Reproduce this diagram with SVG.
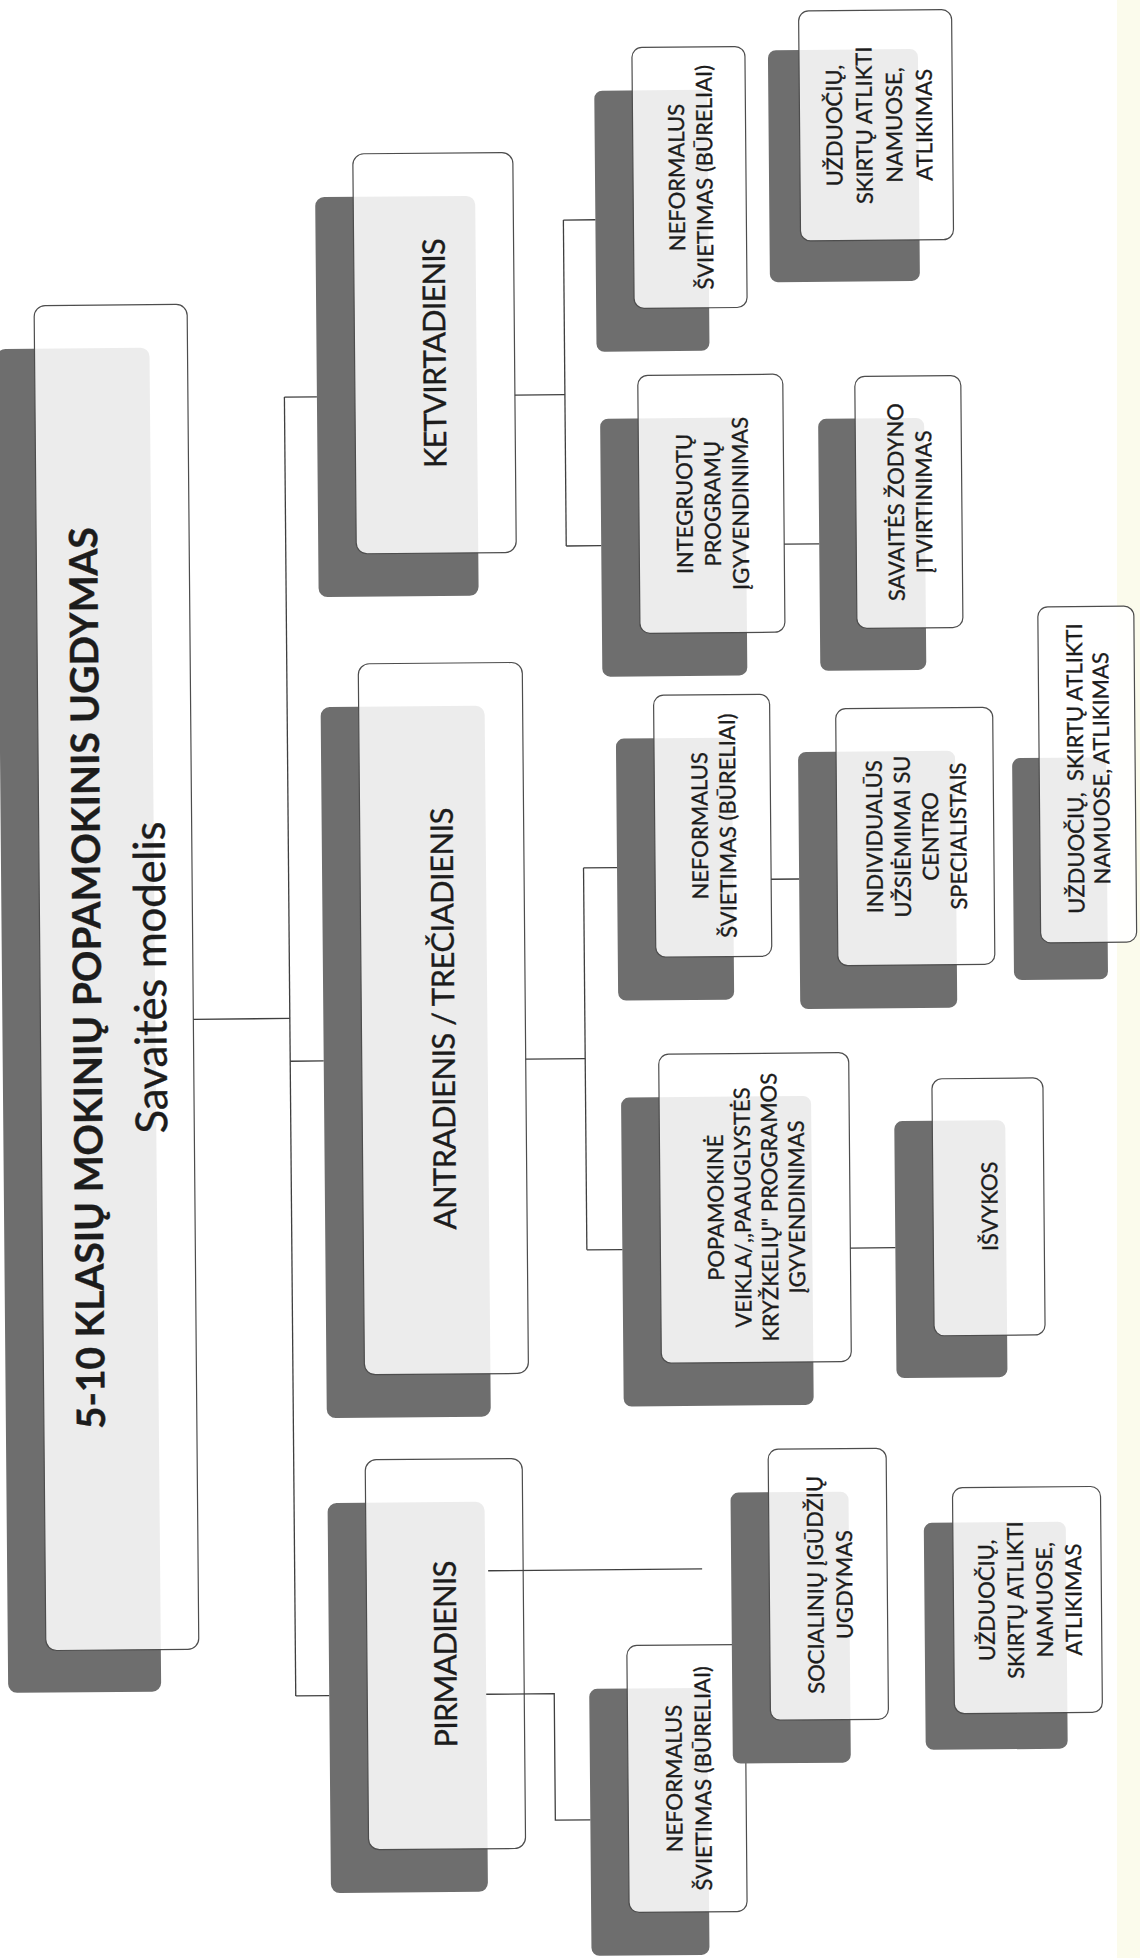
<svg xmlns="http://www.w3.org/2000/svg" width="1140" height="1958" viewBox="0 0 1140 1958">
<style>
.sh{fill:#6e6e6e}
.bx{fill:#fff;fill-opacity:.87;stroke:#4d4d4d;stroke-width:1.2}
.t{font-family:Lato,"Liberation Sans","DejaVu Sans",sans-serif;fill:#1c1c1c;stroke:#1c1c1c;stroke-width:.35;text-anchor:middle}
.l1{font-size:31px}
.l2{font-size:22px}
.ti{font-size:39px;font-weight:bold}
.st{font-size:44px}
.cn{fill:none;stroke:#3f3f3f;stroke-width:1.3}
</style>
<rect width="1140" height="1958" fill="#fff"/>
<rect x="1117" y="0" width="23" height="1958" fill="#fbfbec"/>
<g transform="rotate(-0.5 570 979)">
<g id="root">
<rect class="sh" x="2" y="344" width="153" height="1344" rx="9"/>
<rect class="bx" x="40" y="301" width="153" height="1345" rx="11"/>
<text class="t" transform="translate(116.5 974) rotate(-90)"><tspan class="ti" x="0" y="-15.5" textLength="902">5-10 KLASIŲ MOKINIŲ POPAMOKINIS UGDYMAS</tspan><tspan class="st" x="0" y="49.5" textLength="312">Savaitės modelis</tspan></text>
</g>
<g id="ketvirtadienis">
<rect class="sh" x="322" y="195" width="160" height="400" rx="9"/>
<rect class="bx" x="360" y="152" width="160" height="400" rx="11"/>
<text class="t l1" transform="translate(440 352) rotate(-90)" x="0" y="11" textLength="230">KETVIRTADIENIS</text>
</g>
<g id="antradienis">
<rect class="sh" x="323" y="705" width="164" height="711" rx="9"/>
<rect class="bx" x="361" y="662" width="164" height="711" rx="11"/>
<text class="t l1" transform="translate(443 1017.5) rotate(-90)" x="0" y="11" textLength="422">ANTRADIENIS / TREČIADIENIS</text>
</g>
<g id="pirmadienis">
<rect class="sh" x="323" y="1501" width="157" height="390" rx="9"/>
<rect class="bx" x="361" y="1458" width="157" height="390" rx="11"/>
<text class="t l1" transform="translate(439.5 1653) rotate(-90)" x="0" y="11" textLength="187">PIRMADIENIS</text>
</g>
<g id="k-neformalus">
<rect class="sh" x="602" y="91" width="113" height="261" rx="8"/>
<rect class="bx" x="640" y="48" width="113" height="261" rx="10"/>
<text class="t l2" transform="translate(696.5 178.5) rotate(-90)"><tspan x="0" y="-5">NEFORMALUS</tspan><tspan x="0" y="23">ŠVIETIMAS (BŪRELIAI)</tspan></text>
</g>
<g id="k-uzduociu">
<rect class="sh" x="776" y="52" width="150" height="232" rx="8"/>
<rect class="bx" x="807" y="13" width="153" height="230" rx="10"/>
<text class="t l2" transform="translate(883.5 128) rotate(-90)"><tspan x="0" y="-34">UŽDUOČIŲ,</tspan><tspan x="0" y="-4">SKIRTŲ ATLIKTI</tspan><tspan x="0" y="26">NAMUOSE,</tspan><tspan x="0" y="56">ATLIKIMAS</tspan></text>
</g>
<g id="k-integruotu">
<rect class="sh" x="605" y="419" width="145" height="258" rx="8"/>
<rect class="bx" x="643" y="376" width="145" height="258" rx="10"/>
<text class="t l2" transform="translate(715.5 505) rotate(-90)"><tspan x="0" y="-19">INTEGRUOTŲ</tspan><tspan x="0" y="9">PROGRAMŲ</tspan><tspan x="0" y="37">ĮGYVENDINIMAS</tspan></text>
</g>
<g id="k-zodynas">
<rect class="sh" x="823" y="421" width="106" height="252" rx="8"/>
<rect class="bx" x="860" y="379" width="106" height="252" rx="10"/>
<text class="t l2" transform="translate(913 505) rotate(-90)"><tspan x="0" y="-5">SAVAITĖS ŽODYNO</tspan><tspan x="0" y="23">ĮTVIRTINIMAS</tspan></text>
</g>
<g id="a-neformalus">
<rect class="sh" x="618" y="739" width="116" height="262" rx="8"/>
<rect class="bx" x="656" y="696" width="116" height="262" rx="10"/>
<text class="t l2" transform="translate(714 827) rotate(-90)"><tspan x="0" y="-5">NEFORMALUS</tspan><tspan x="0" y="23">ŠVIETIMAS (BŪRELIAI)</tspan></text>
</g>
<g id="a-individualus">
<rect class="sh" x="800" y="754" width="157" height="257" rx="8"/>
<rect class="bx" x="838" y="711" width="157" height="257" rx="10"/>
<text class="t l2" transform="translate(916.5 839.5) rotate(-90)"><tspan x="0" y="-33">INDIVIDUALŪS</tspan><tspan x="0" y="-5">UŽSIĖMIMAI SU</tspan><tspan x="0" y="23">CENTRO</tspan><tspan x="0" y="51">SPECIALISTAIS</tspan></text>
</g>
<g id="a-uzduociu">
<rect class="sh" x="1014" y="762" width="94" height="222" rx="8"/>
<rect class="bx" x="1041" y="611" width="96" height="336" rx="10"/>
<text class="t l2" transform="translate(1089 773) rotate(-90)" xml:space="preserve"><tspan x="0" y="-4">UŽDUOČIŲ,  SKIRTŲ ATLIKTI</tspan><tspan x="0" y="22">NAMUOSE, ATLIKIMAS</tspan></text>
</g>
<g id="a-popamokine">
<rect class="sh" x="620" y="1098" width="190" height="309" rx="8"/>
<rect class="bx" x="658" y="1055" width="190" height="309" rx="10"/>
<text class="t l2" transform="translate(753 1209) rotate(-90)"><tspan x="0" y="-31.5">POPAMOKINĖ</tspan><tspan x="0" y="-4.5">VEIKLA/,,PAAUGLYSTĖS</tspan><tspan x="0" y="22.5">KRYŽKELIŲ" PROGRAMOS</tspan><tspan x="0" y="49.5">ĮGYVENDINIMAS</tspan></text>
</g>
<g id="a-isvykos">
<rect class="sh" x="893" y="1124" width="111" height="257" rx="8"/>
<rect class="bx" x="931" y="1082" width="111" height="257" rx="10"/>
<text class="t l2" transform="translate(986.5 1210) rotate(-90)" x="0" y="9">IŠVYKOS</text>
</g>
<g id="p-neformalus">
<rect class="sh" x="583" y="1689" width="118" height="267" rx="8"/>
<rect class="bx" x="621" y="1646" width="118" height="267" rx="10"/>
<text class="t l2" transform="translate(680 1779.5) rotate(-90)"><tspan x="0" y="-5">NEFORMALUS</tspan><tspan x="0" y="24">ŠVIETIMAS (BŪRELIAI)</tspan></text>
</g>
<g id="p-socialiniu">
<rect class="sh" x="726" y="1494" width="118" height="271" rx="8"/>
<rect class="bx" x="764" y="1451" width="118" height="271" rx="10"/>
<text class="t l2" transform="translate(823 1587) rotate(-90)"><tspan x="0" y="-5">SOCIALINIŲ ĮGŪDŽIŲ</tspan><tspan x="0" y="24">UGDYMAS</tspan></text>
</g>
<g id="p-uzduociu">
<rect class="sh" x="919" y="1526" width="142" height="227" rx="8"/>
<rect class="bx" x="948" y="1491" width="148" height="226" rx="10"/>
<text class="t l2" transform="translate(1021.5 1604) rotate(-90)"><tspan x="0" y="-32.5">UŽDUOČIŲ,</tspan><tspan x="0" y="-3.5">SKIRTŲ ATLIKTI</tspan><tspan x="0" y="25.5">NAMUOSE,</tspan><tspan x="0" y="54.5">ATLIKIMAS</tspan></text>
</g>
<g id="connectors" class="cn">
<path d="M193 1016H289.5"/>
<path d="M289.5 394.6V1693.5"/>
<path d="M289.5 394.6H322"/>
<path d="M289.5 1058.8H323"/>
<path d="M289.5 1693.5H323"/>
<path d="M520 394.6H570"/>
<path d="M570 220V546"/>
<path d="M570 220H602"/>
<path d="M570 546H605"/>
<path d="M788 546H823"/>
<path d="M525 1058.8H584.5"/>
<path d="M584.5 868V1250"/>
<path d="M584.5 868H618"/>
<path d="M772 881H800"/>
<path d="M584.5 1250H620"/>
<path d="M848 1250.5H893"/>
<path d="M483 1570H697"/>
<path d="M480 1693.5H548V1820H583"/>
</g>
</g>
</svg>
